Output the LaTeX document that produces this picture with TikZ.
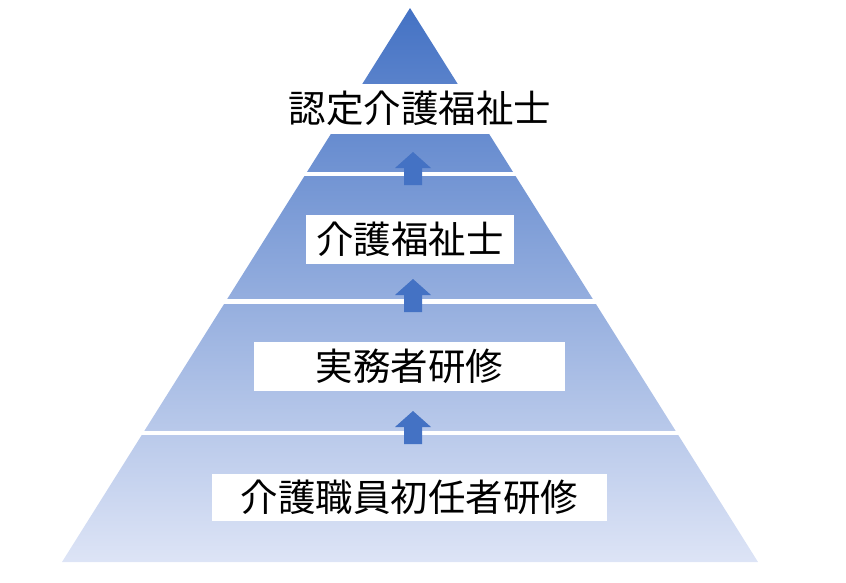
\documentclass[tikz,border=0pt]{standalone}
\usepackage{fontspec}
\newfontfamily\jpfont{Noto Sans CJK JP}
\usepackage{xcolor}
\definecolor{pyrtop}{RGB}{68,114,196}
\definecolor{pyrbottom}{RGB}{221,228,246}
\definecolor{arrowblue}{RGB}{68,114,196}

\begin{document}
\begin{tikzpicture}[
    x=1pt, y=-1pt,
    lvlbox/.style={rectangle, fill=white, inner sep=0pt, minimum height=49pt, align=center, font=\jpfont\fontsize{37.5}{40}\selectfont},
    lvltext/.style={inner sep=0pt, font=\jpfont\fontsize{37.5}{40}\selectfont},
    gap/.style={fill=white},
    uparrow/.style={fill=arrowblue}
]
\useasboundingbox (0,0) rectangle (846,582);

% pyramid body
\coordinate (apex) at (410,8);
\coordinate (bl) at (62,562);
\coordinate (br) at (758,562);
\shade[top color=pyrtop, bottom color=pyrbottom] (apex) -- (bl) -- (br) -- cycle;

% white bands between the levels
\fill[gap] (0,84) rectangle (846,134);
\fill[gap] (0,172) rectangle (846,176);
\fill[gap] (0,298.5) rectangle (846,303.5);
\fill[gap] (0,430.5) rectangle (846,434.5);

% labels
\node[lvltext] (cert) at (420,108) {認定介護福祉士};
\node[lvlbox, minimum width=208pt] (cw) at (410,239.5) {介護福祉士};
\node[lvlbox, minimum width=311pt] (prac) at (409.5,366.5) {実務者研修};
\node[lvlbox, minimum width=395pt, minimum height=47pt] (intro) at (409.5,497) {介護職員初任者研修};

% block arrows
\foreach \t in {152,279,411}
  \fill[uparrow] (413,\t) -- ++(18,16) -- ++(-9,0) -- ++(0,17) -- ++(-18,0) -- ++(0,-17) -- ++(-9,0) -- cycle;
\end{tikzpicture}
\end{document}
